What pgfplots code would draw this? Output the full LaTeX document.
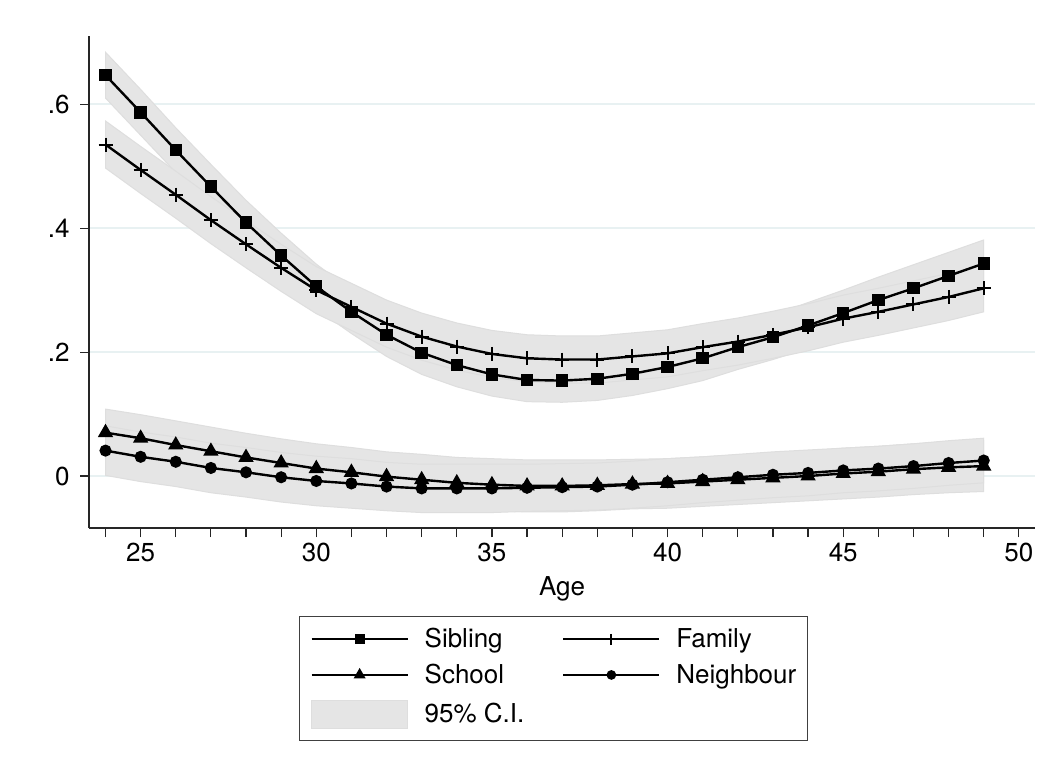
\documentclass[border=0pt]{standalone}
\usepackage{fontspec}
\setmainfont{TeX Gyre Heros}
\usepackage{pgfplots}
\usepackage{pgfplotstable}
\pgfplotsset{compat=1.18}
\definecolor{cigray}{RGB}{229,229,229}
\definecolor{ciedge}{RGB}{222,222,222}
\definecolor{gridc}{RGB}{232,241,242}

\pgfplotstableread{
x sib fam sch nei
24 0.647 0.535 0.070 0.041
25 0.587 0.494 0.061 0.031
26 0.526 0.454 0.050 0.023
27 0.467 0.413 0.040 0.013
28 0.409 0.374 0.030 0.006
29 0.356 0.336 0.021 -0.002
30 0.306 0.300 0.012 -0.008
31 0.265 0.273 0.006 -0.012
32 0.228 0.246 -0.001 -0.017
33 0.199 0.225 -0.006 -0.020
34 0.179 0.209 -0.011 -0.020
35 0.164 0.197 -0.014 -0.020
36 0.155 0.190 -0.016 -0.019
37 0.154 0.188 -0.016 -0.018
38 0.157 0.188 -0.015 -0.017
39 0.165 0.193 -0.013 -0.014
40 0.176 0.198 -0.012 -0.010
41 0.190 0.208 -0.009 -0.006
42 0.208 0.217 -0.006 -0.002
43 0.224 0.228 -0.003 0.002
44 0.243 0.240 0.000 0.005
45 0.263 0.254 0.004 0.009
46 0.284 0.265 0.007 0.012
47 0.303 0.277 0.011 0.016
48 0.323 0.289 0.014 0.021
49 0.343 0.303 0.016 0.025
}\data

% 95% CI bands: upper bound forward, lower bound backward
\pgfplotstableread{
x y
24 0.684
25 0.624
26 0.562
27 0.503
28 0.445
29 0.392
30 0.342
31 0.300
32 0.263
33 0.234
34 0.214
35 0.199
36 0.190
37 0.189
38 0.192
39 0.200
40 0.211
41 0.226
42 0.244
43 0.260
44 0.280
45 0.300
46 0.321
47 0.341
48 0.361
49 0.381
49 0.305
48 0.285
47 0.265
46 0.247
45 0.226
44 0.206
43 0.188
42 0.172
41 0.154
40 0.141
39 0.130
38 0.122
37 0.119
36 0.120
35 0.129
34 0.144
33 0.164
32 0.193
31 0.230
30 0.270
29 0.320
28 0.373
27 0.431
26 0.490
25 0.550
24 0.610
}\sibband

\pgfplotstableread{
x y
24 0.573
25 0.532
26 0.492
27 0.451
28 0.412
29 0.374
30 0.338
31 0.311
32 0.284
33 0.263
34 0.247
35 0.235
36 0.228
37 0.226
38 0.226
39 0.231
40 0.236
41 0.246
42 0.255
43 0.266
44 0.278
45 0.292
46 0.303
47 0.315
48 0.327
49 0.341
49 0.265
48 0.251
47 0.239
46 0.227
45 0.216
44 0.202
43 0.190
42 0.179
41 0.170
40 0.160
39 0.155
38 0.150
37 0.150
36 0.152
35 0.159
34 0.171
33 0.187
32 0.208
31 0.235
30 0.262
29 0.298
28 0.336
27 0.375
26 0.416
25 0.456
24 0.497
}\famband

\pgfplotstableread{
x y
24 0.108
25 0.099
26 0.089
27 0.079
28 0.069
29 0.060
30 0.052
31 0.046
32 0.039
33 0.035
34 0.030
35 0.028
36 0.026
37 0.026
38 0.026
39 0.027
40 0.028
41 0.031
42 0.034
43 0.037
44 0.040
45 0.045
46 0.048
47 0.052
48 0.055
49 0.057
49 -0.025
48 -0.027
47 -0.030
46 -0.034
45 -0.037
44 -0.040
43 -0.043
42 -0.046
41 -0.049
40 -0.052
39 -0.053
38 -0.056
37 -0.058
36 -0.058
35 -0.056
34 -0.052
33 -0.047
32 -0.041
31 -0.034
30 -0.028
29 -0.018
28 -0.009
27 0.001
26 0.011
25 0.023
24 0.032
}\schband

\pgfplotstableread{
x y
24 0.081
25 0.071
26 0.063
27 0.053
28 0.046
29 0.038
30 0.032
31 0.028
32 0.022
33 0.019
34 0.019
35 0.019
36 0.019
37 0.020
38 0.021
39 0.024
40 0.028
41 0.031
42 0.035
43 0.039
44 0.042
45 0.045
46 0.048
47 0.052
48 0.057
49 0.061
49 -0.011
48 -0.015
47 -0.020
46 -0.024
45 -0.027
44 -0.032
43 -0.035
42 -0.039
41 -0.043
40 -0.048
39 -0.052
38 -0.055
37 -0.056
36 -0.057
35 -0.059
34 -0.059
33 -0.059
32 -0.056
31 -0.052
30 -0.048
29 -0.042
28 -0.034
27 -0.027
26 -0.017
25 -0.009
24 0.001
}\neiband

\pgfplotsset{
  legline/.style={legend image code/.code={%
    \draw[line width=2pt, mark size=#1, mark repeat=2, mark phase=2]
      plot coordinates {(0pt,0pt) (48pt,0pt) (96pt,0pt)};}},
}

\begin{document}
\begin{tikzpicture}
\path[use as bounding box, fill=white] (0,0) rectangle (1057pt,771pt);
\begin{axis}[
  at={(89pt,243pt)}, anchor=south west,
  scale only axis, width=946pt, height=492pt,
  xmin=23.53, xmax=50.46, ymin=-0.0839, ymax=0.7102,
  axis x line=bottom, axis y line=left,
  axis line style={-, line width=1.2pt, black!85},
  xtick={25,30,...,50}, minor xtick={24,...,50},
  ytick={0,0.2,0.4,0.6}, yticklabels={0,.2,.4,.6},
  tick align=outside, major tick length=9pt, minor tick length=9pt,
  tick style={line width=1.2pt, black!85},
  ymajorgrids, major grid style={gridc, line width=1.6pt},
  /pgf/number format/assume math mode=true,
  tick label style={font=\fontsize{26}{30}\selectfont},
  yticklabel style={xshift=-7pt},
  xticklabel style={yshift=-3pt},
  xlabel={Age},
  xlabel style={font=\fontsize{26}{30}\selectfont, at={(axis description cs:0.5,-0.124)}, anchor=center},
  legend columns=2,
  legend cell align=left,
  legend style={at={(0.491,-0.1789)}, anchor=north, draw=black!75, line width=1pt,
    font=\fontsize{26}{30}\selectfont, row sep=14pt,
    inner xsep=11pt, inner ysep=12pt,
    nodes={inner sep=0pt, text depth=0.22em},
    /tikz/every odd column/.append style={column sep=16pt},
    /tikz/every even column/.append style={column sep=38pt}},
]
% confidence bands
\addplot[fill=cigray, draw=ciedge, line width=1pt, forget plot] table[x=x, y=y] {\sibband} -- cycle;
\addplot[fill=cigray, draw=ciedge, line width=1pt, forget plot] table[x=x, y=y] {\famband} -- cycle;
\addplot[fill=cigray, draw=ciedge, line width=1pt, forget plot] table[x=x, y=y] {\schband} -- cycle;
\addplot[fill=cigray, draw=ciedge, line width=1pt, forget plot] table[x=x, y=y] {\neiband} -- cycle;
% lines
\addplot[black, line width=2.4pt, mark=square*, mark size=5pt, mark options={solid}, legline=4pt] table[x=x, y=sib] {\data};
\addlegendentry{Sibling}
\addplot[black, line width=2.4pt, mark=+, mark size=7pt, mark options={solid, line width=2pt}, legline=5.5pt] table[x=x, y=fam] {\data};
\addlegendentry{Family}
\addplot[black, line width=2.4pt, mark=triangle*, mark size=6.5pt, mark options={solid}, legline=5pt] table[x=x, y=sch] {\data};
\addlegendentry{School}
\addplot[black, line width=2.4pt, mark=*, mark size=4.8pt, mark options={solid}, legline=3.8pt] table[x=x, y=nei] {\data};
\addlegendentry{Neighbour}
\addlegendimage{legend image code/.code={\fill[cigray, draw=ciedge, line width=1pt] (0pt,-14pt) rectangle (96pt,14pt);}}
\addlegendentry{95\% C.I.}
\end{axis}
\end{tikzpicture}
\end{document}
